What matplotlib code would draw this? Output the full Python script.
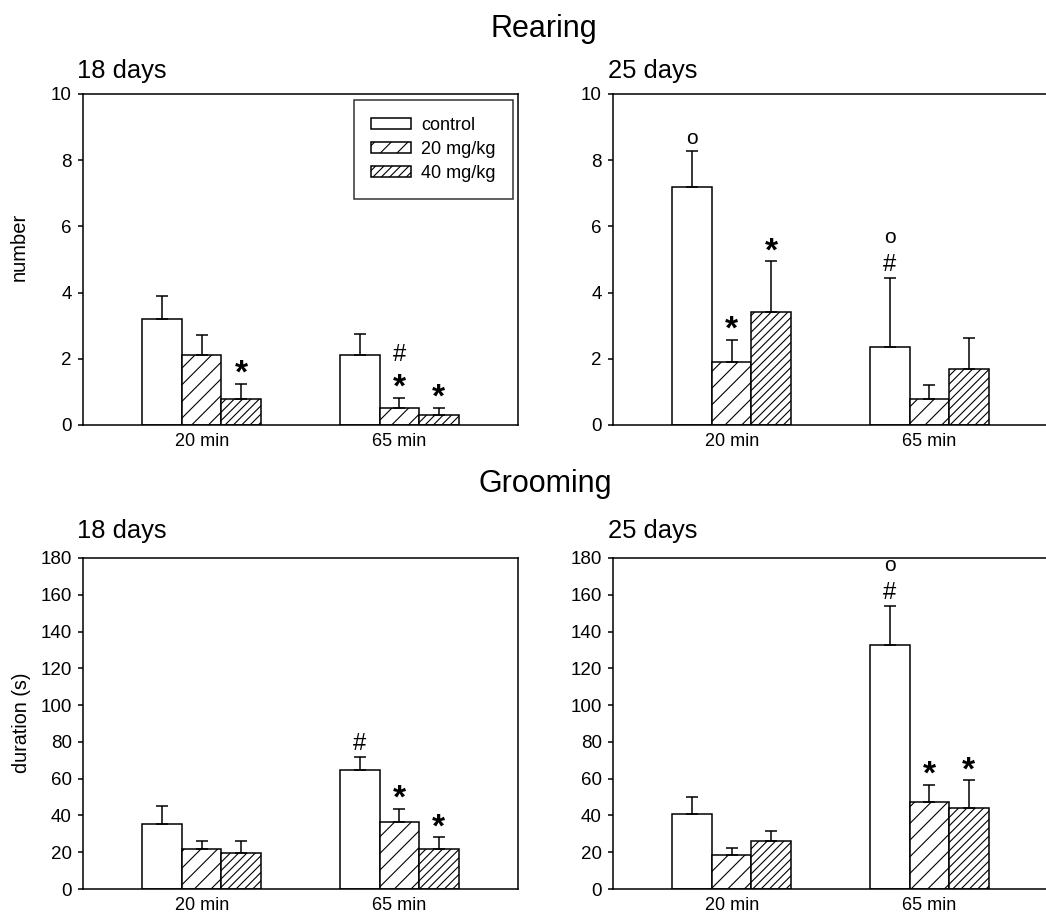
import numpy as np
import matplotlib
matplotlib.use('Agg')
import matplotlib.pyplot as plt
from matplotlib.patches import Patch

plt.rcParams['font.family'] = ['Liberation Sans', 'DejaVu Sans']
plt.rcParams['hatch.linewidth'] = 0.8

# data
times = ['20 min', '65 min']
groups = ['control', '20 mg/kg', '40 mg/kg']

rear_18 = [[3.2, 2.1, 0.8], [2.1, 0.5, 0.3]]
rear_18_err = [[0.7, 0.63, 0.44], [0.65, 0.32, 0.22]]
rear_25 = [[7.2, 1.9, 3.4], [2.37, 0.8, 1.7]]
rear_25_err = [[1.09, 0.68, 1.55], [2.08, 0.41, 0.93]]

groom_18 = [[35.5, 21.9, 19.6], [64.9, 36.4, 21.8]]
groom_18_err = [[9.5, 4.0, 6.3], [6.9, 7.3, 6.3]]
groom_25 = [[40.8, 18.3, 26.1], [132.7, 47.3, 44.0]]
groom_25_err = [[9.4, 4.0, 5.4], [21.4, 9.3, 15.1]]

# significance marks, listed bottom to top
rear_18_marks = [[[], [], ['*']], [[], ['*', '#'], ['*']]]
rear_25_marks = [[['o'], ['*'], ['*']], [['#', 'o'], [], []]]
groom_18_marks = [[[], [], []], [['#'], ['*'], ['*']]]
groom_25_marks = [[[], [], []], [['#', 'o'], ['*'], ['*']]]

hatches = ['', '//', '////']
W, H = 1046, 916
fig = plt.figure(figsize=(W / 100, H / 100), dpi=100)

def axes_px(x0, y0, x1, y1):
    return fig.add_axes([x0 / W, 1 - y1 / H, (x1 - x0) / W, (y1 - y0) / H])

# symbol centre above error bar top (px), and glyph centre above baseline (px)
first_gap = {'*': 20, '#': 15, 'o': 12}
glyph_mid = {'*': 19, '#': 8.5, 'o': 5.5}
sym_size = {'*': 24, '#': 17, 'o': 15}
sym_weight = {'*': 'bold', '#': 'normal', 'o': 'normal'}
stack_gap = 25

def panel(ax, vals, errs, marks, ymax, ystep):
    bw = 0.2
    for g in range(3):
        xs = [i + 1 + (g - 1) * bw for i in range(2)]
        ys = [vals[i][g] for i in range(2)]
        es = [errs[i][g] for i in range(2)]
        ax.bar(xs, ys, bw, color='white', edgecolor='black', linewidth=1.1,
               hatch=hatches[g], zorder=2)
        ax.errorbar(xs, ys, yerr=[[0, 0], es], fmt='none', ecolor='black',
                    elinewidth=1.1, capsize=4, capthick=1.1, zorder=3)
        for i in range(2):
            c = first_gap[marks[i][g][0]] if marks[i][g] else 0
            for k, s in enumerate(marks[i][g]):
                if k > 0:
                    c += stack_gap
                ax.annotate(s, (xs[i], ys[i] + es[i]),
                            xytext=(0, (c - glyph_mid[s]) * 0.72),
                            textcoords='offset points', ha='center', va='baseline',
                            fontsize=sym_size[s], fontweight=sym_weight[s], zorder=4)
    ax.set_xlim(0.4, 2.6)
    ax.set_ylim(0, ymax)
    ax.set_yticks(np.arange(0, ymax + 1, ystep))
    ax.set_xticks([1, 2])
    ax.set_xticklabels(times)
    ax.tick_params(axis='y', direction='out', length=3.5, width=1.1, labelsize=13.5, pad=4.5)
    ax.tick_params(axis='x', length=0, labelsize=13, pad=6)
    for sp in ax.spines.values():
        sp.set_linewidth(1.1)

ax1 = axes_px(83, 94, 518, 425)
ax2 = axes_px(613, 94, 1048, 425)
ax3 = axes_px(83, 558, 518, 889)
ax4 = axes_px(613, 558, 1048, 889)

panel(ax1, rear_18, rear_18_err, rear_18_marks, 10, 2)
panel(ax2, rear_25, rear_25_err, rear_25_marks, 10, 2)
panel(ax3, groom_18, groom_18_err, groom_18_marks, 180, 20)
panel(ax4, groom_25, groom_25_err, groom_25_marks, 180, 20)

handles = [Patch(facecolor='white', edgecolor='black', linewidth=1.1, hatch=h) for h in hatches]
leg = ax1.legend(handles, groups, loc='upper right', bbox_to_anchor=(0.9885, 0.982),
                 fontsize=13, frameon=True, fancybox=False, edgecolor='black',
                 handlelength=2.25, handleheight=0.55, handletextpad=0.55,
                 labelspacing=0.38, borderpad=0.95, borderaxespad=0)
leg.get_frame().set_linewidth(1.1)

fig.text(544 / W, 1 - 37 / H, 'Rearing', ha='center', va='baseline', fontsize=22)
fig.text(545 / W, 1 - 492 / H, 'Grooming', ha='center', va='baseline', fontsize=22)
fig.text(77 / W, 1 - 78 / H, '18 days', ha='left', va='baseline', fontsize=18.4)
fig.text(608 / W, 1 - 78 / H, '25 days', ha='left', va='baseline', fontsize=18.4)
fig.text(77 / W, 1 - 538 / H, '18 days', ha='left', va='baseline', fontsize=18.4)
fig.text(608 / W, 1 - 538 / H, '25 days', ha='left', va='baseline', fontsize=18.4)
fig.text(19 / W, 1 - 247 / H, 'number', rotation=90, ha='center', va='center', fontsize=14.5)
fig.text(22 / W, 1 - 723 / H, 'duration (s)', rotation=90, ha='center', va='center', fontsize=14.2)

fig.savefig('out.png', dpi=100)
